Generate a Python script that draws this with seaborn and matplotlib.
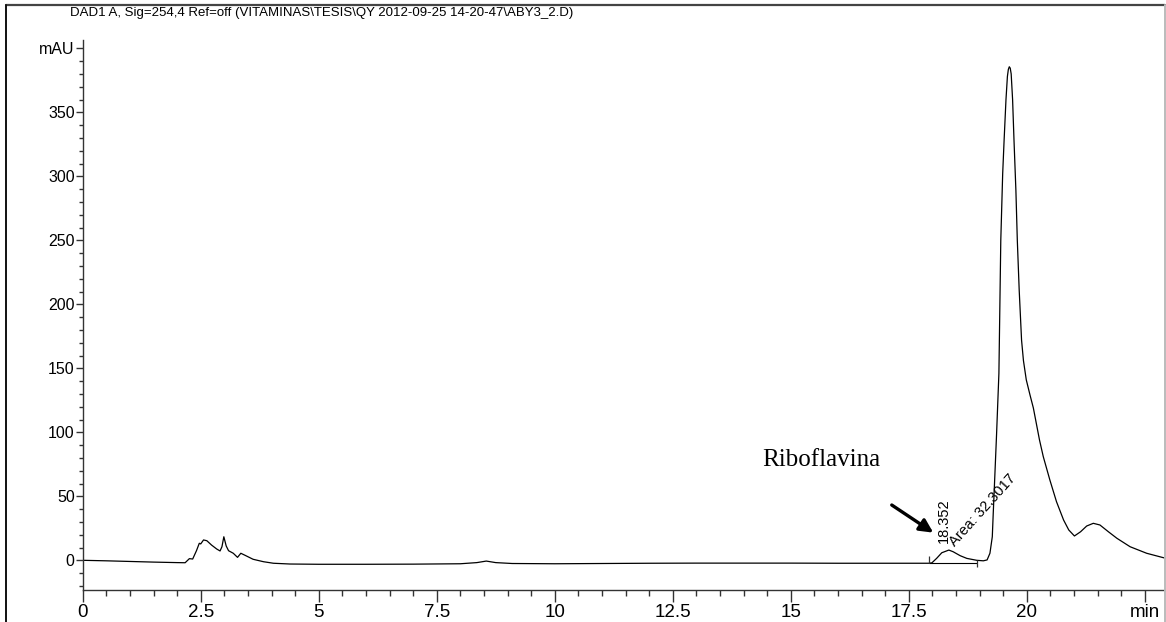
import matplotlib
matplotlib.use("Agg")
import matplotlib.pyplot as plt
from matplotlib import font_manager as fm
from matplotlib.lines import Line2D
from matplotlib.ticker import MultipleLocator
import pandas as pd
import seaborn as sns

# ---- chromatogram trace (retention time in min, signal in mAU) ----
time_min = [
    0.00, 0.50, 1.00, 1.50, 2.00, 2.17,
    2.26, 2.33, 2.41, 2.47, 2.50, 2.56, 2.63, 2.73, 2.84, 2.91, 2.95, 2.99,
    3.04, 3.09, 3.19, 3.28, 3.35, 3.44, 3.61, 3.83, 4.04, 4.39,
    5.00, 6.00, 7.00, 8.00, 8.35, 8.55, 8.75, 9.10, 10.00, 11.00, 12.00,
    13.00, 14.00, 15.00, 16.00, 17.00, 17.92,
    17.99, 18.09, 18.20, 18.35, 18.44, 18.59, 18.73, 18.94, 19.08, 19.16,
    19.22, 19.27, 19.29, 19.32, 19.36, 19.41, 19.43, 19.45, 19.49, 19.52,
    19.56, 19.59, 19.61, 19.63, 19.65, 19.67, 19.70, 19.73, 19.77, 19.80,
    19.84, 19.89, 19.93, 19.99, 20.07, 20.14, 20.27, 20.35, 20.49, 20.63,
    20.78, 20.89, 21.01, 21.14, 21.27, 21.41, 21.55, 21.73, 21.91, 22.19,
    22.54, 22.95,
]
signal_mau = [
    0.0, -0.4, -0.9, -1.4, -1.8, -1.9,
    1.3, 1.0, 7.5, 13.3, 12.8, 15.9, 15.3, 11.9, 8.8, 7.3, 10.6, 18.4,
    11.2, 7.5, 5.5, 2.3, 5.5, 3.9, 0.8, -1.1, -2.3, -2.9,
    -3.1, -3.1, -3.0, -2.7, -1.8, -0.6, -1.8, -2.5, -2.7, -2.5, -2.3,
    -2.2, -2.2, -2.2, -2.3, -2.3, -2.3,
    -2.0, 1.5, 5.9, 8.0, 6.7, 3.6, 1.5, 0.0, -0.4, 0.3,
    5.5, 18.4, 36.7, 62.7, 98.0, 146.0, 198.0, 250.0, 302.0, 328.0,
    360.0, 378.0, 383.5, 385.6, 384.5, 380.0, 360.0, 328.0, 289.0, 250.0,
    211.0, 172.0, 156.0, 141.0, 129.0, 119.0, 94.0, 81.0, 62.7, 45.8,
    31.5, 23.7, 19.0, 22.3, 26.8, 28.9, 27.6, 22.3, 17.2, 10.6,
    5.5, 1.5,
]

# ---- integration of the riboflavin peak ----
peak_rt = 18.352
peak_area = 32.3017
integration_start = 17.92
integration_end = 18.95
integration_baseline = -2.3

# ---- axis ticks ----
x_major = [0, 2.5, 5, 7.5, 10, 12.5, 15, 17.5, 20, 22.5]
x_labels = ["0", "2.5", "5", "7.5", "10", "12.5", "15", "17.5", "20", "min"]
y_major = [0, 50, 100, 150, 200, 250, 300, 350, 400]
y_labels = ["0", "50", "100", "150", "200", "250", "300", "350", "mAU"]

title = r"DAD1 A, Sig=254,4 Ref=off (VITAMINAS\TESIS\QY 2012-09-25 14-20-47\ABY3_2.D)"

sns.set_theme(style="white")

available = {f.name for f in fm.fontManager.ttflist}


def pick(*names):
    for n in names:
        if n in available:
            return n
    return "DejaVu Sans"


SANS = pick("Liberation Sans", "Arial")
SERIF = pick("Liberation Serif", "Times New Roman")
plt.rcParams["font.family"] = [SANS, "DejaVu Sans"]

W, H = 1166, 622
fig = plt.figure(figsize=(W / 100, H / 100), dpi=100)
fig.patch.set_facecolor("white")

# plot area in pixel terms
left_px, right_px, top_px, bottom_px = 82.7, 1166.0, 40.0, 590.0
ax = fig.add_axes([left_px / W, (H - bottom_px) / H,
                   (right_px - left_px) / W, (bottom_px - top_px) / H])
ax.set_facecolor("white")

trace = pd.DataFrame({"time": time_min, "signal": signal_mau})
sns.lineplot(data=trace, x="time", y="signal", sort=False, estimator=None,
             color="black", linewidth=0.9, ax=ax)

# integration baseline and event marks
ax.hlines(integration_baseline, integration_start, integration_end,
          color="black", linewidth=0.8)
ax.vlines(integration_start, integration_baseline, 3.5, color="#333333", linewidth=0.9)
ax.vlines(integration_end, -5.0, 0.3, color="#333333", linewidth=0.9)

ax.set_xlim(0, 22.95)
ax.set_ylim(-23.2, 406.5)
ax.set_xlabel("")
ax.set_ylabel("")

spine_col = "#333333"
for side in ("top", "right"):
    ax.spines[side].set_visible(False)
for side in ("left", "bottom"):
    ax.spines[side].set_visible(True)
    ax.spines[side].set_color(spine_col)
    ax.spines[side].set_linewidth(1.0)

ax.set_xticks(x_major)
ax.set_xticklabels(x_labels, fontfamily=SANS, fontsize=13.5, color="black")
ax.xaxis.set_minor_locator(MultipleLocator(0.5))
ax.set_yticks(y_major)
ax.set_yticklabels(y_labels, fontfamily=SANS, fontsize=11.5, color="black")
ax.yaxis.set_minor_locator(MultipleLocator(10))

ax.tick_params(axis="x", which="major", direction="out", length=8.6, width=1.0,
               color=spine_col, pad=1.5, bottom=True)
ax.tick_params(axis="x", which="minor", direction="out", length=4.0, width=1.0,
               color=spine_col, bottom=True)
ax.tick_params(axis="y", which="major", direction="out", length=5.0, width=1.0,
               color=spine_col, pad=0.8, left=True)
ax.tick_params(axis="y", which="minor", direction="out", length=3.0, width=1.0,
               color=spine_col, left=True)
ax.grid(False)

# peak labels
ax.text(18.25, 13.3, f"{peak_rt:.3f}", rotation=90, ha="center", va="bottom",
        fontfamily=SANS, fontsize=10.5, color="black")
ax.text(18.53, 9.0, f"Area: {peak_area:.4f}", rotation=48, rotation_mode="anchor",
        ha="left", va="bottom", fontfamily=SANS, fontsize=10.5, color="black")

ax.annotate("", xy=(18.02, 21.6), xytext=(17.14, 43.2),
            arrowprops=dict(arrowstyle="-|>", color="black", lw=2.4,
                            mutation_scale=20, shrinkA=0, shrinkB=0))
ax.text(14.39, 78.4, "Riboflavina", fontfamily=SERIF, fontsize=18,
        ha="left", va="center", color="black")

# signal description along the top, sized to its ~500 px line
head = fig.text(70 / W, 1 - 13 / H, title, fontfamily=SANS, fontsize=11,
                ha="left", va="center", color="black")
fig.canvas.draw()
width_px = head.get_window_extent(renderer=fig.canvas.get_renderer()).width
head.set_fontsize(11 * 500.0 / width_px)

# report frame
fig.add_artist(Line2D([6 / W, 1165 / W], [1 - 5 / H, 1 - 5 / H],
                      transform=fig.transFigure, color="#444444", linewidth=1.6))
fig.add_artist(Line2D([6 / W, 6 / W], [0, 1 - 5 / H],
                      transform=fig.transFigure, color="#111111", linewidth=1.4))
fig.add_artist(Line2D([1165 / W, 1165 / W], [0, 1 - 5 / H],
                      transform=fig.transFigure, color="#bbbbbb", linewidth=1.4))

fig.savefig("out.png", dpi=100, facecolor="white")
